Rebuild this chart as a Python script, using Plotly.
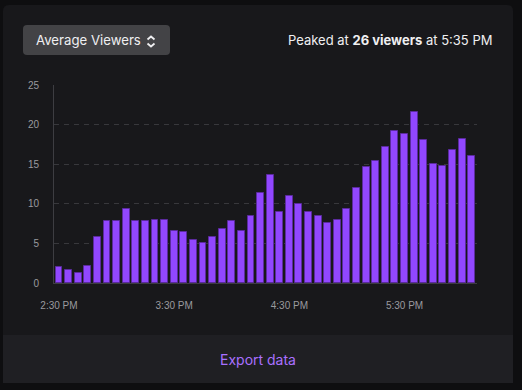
import plotly.graph_objects as go
from datetime import datetime, timedelta

# ---- data ----
start_time = datetime(2024, 1, 1, 14, 30)
interval_minutes = 5
viewers = [2.0, 1.6, 1.3, 2.2, 5.8, 7.8, 7.8, 9.4, 7.8, 7.8,
           8.0, 8.0, 6.6, 6.4, 5.4, 5.0, 5.8, 6.8, 7.8, 6.6,
           8.4, 11.4, 13.6, 9.0, 11.0, 10.0, 9.0, 8.4, 7.6, 8.0,
           9.4, 12.0, 14.6, 15.4, 17.2, 19.2, 18.8, 21.6, 18.0, 15.0,
           14.8, 16.8, 18.2, 16.0]
times = [start_time + timedelta(minutes=interval_minutes * i) for i in range(len(viewers))]
x_tick_times = [datetime(2024, 1, 1, 14, 30), datetime(2024, 1, 1, 15, 30),
                datetime(2024, 1, 1, 16, 30), datetime(2024, 1, 1, 17, 30)]
x_tick_labels = ["2:30 PM", "3:30 PM", "4:30 PM", "5:30 PM"]
y_ticks = [0, 5, 10, 15, 20, 25]
metric_label = "Average Viewers"
peak_text = "Peaked at <b>26 viewers</b> at 5:35 PM"
footer_text = "Export data"

W, H = 522, 390


def X(px):
    return px / W


def Y(py):
    return 1 - py / H


def rpath(x0, y0, x1, y1, r, top=True, bottom=True):
    rt = r if top else 0
    rb = r if bottom else 0
    pts = []
    pts.append(f"M {X(x0 + rt)},{Y(y0)}")
    pts.append(f"L {X(x1 - rt)},{Y(y0)}")
    if rt:
        pts.append(f"Q {X(x1)},{Y(y0)} {X(x1)},{Y(y0 + rt)}")
    pts.append(f"L {X(x1)},{Y(y1 - rb)}")
    if rb:
        pts.append(f"Q {X(x1)},{Y(y1)} {X(x1 - rb)},{Y(y1)}")
    pts.append(f"L {X(x0 + rb)},{Y(y1)}")
    if rb:
        pts.append(f"Q {X(x0)},{Y(y1)} {X(x0)},{Y(y1 - rb)}")
    pts.append(f"L {X(x0)},{Y(y0 + rt)}")
    if rt:
        pts.append(f"Q {X(x0)},{Y(y0)} {X(x0 + rt)},{Y(y0)}")
    pts.append("Z")
    return " ".join(pts)


fig = go.Figure()
fig.add_trace(go.Bar(
    x=times, y=viewers,
    width=0.72 * interval_minutes * 60 * 1000,
    marker=dict(color="#9147ff", line=dict(color="#5b2b9e", width=1)),
    hoverinfo="x+y",
))

shapes = [
    dict(type="path", path=rpath(3, 5, 513, 383, 6, top=True, bottom=False),
         xref="paper", yref="paper", fillcolor="#18181b", line=dict(width=0), layer="below"),
    dict(type="path", path=rpath(3, 335, 513, 383, 0),
         xref="paper", yref="paper", fillcolor="#1f1f23", line=dict(width=0), layer="below"),
    dict(type="path", path=rpath(23, 25, 170, 55, 4),
         xref="paper", yref="paper", fillcolor="#434346", line=dict(width=0), layer="below"),
    # up/down chevron icon
    dict(type="path",
         path=f"M {X(147.5)},{Y(39.5)} L {X(151)},{Y(36.5)} L {X(154.5)},{Y(39.5)}",
         xref="paper", yref="paper", line=dict(color="#efeff1", width=1.8)),
    dict(type="path",
         path=f"M {X(147.5)},{Y(43.5)} L {X(151)},{Y(46.5)} L {X(154.5)},{Y(43.5)}",
         xref="paper", yref="paper", line=dict(color="#efeff1", width=1.8)),
]

annotations = [
    dict(text=metric_label, x=X(33.5), y=Y(40.5), xref="paper", yref="paper",
         xanchor="left", yanchor="middle", showarrow=False,
         font=dict(family="Inter", size=13.2, color="#efeff1")),
    dict(text=peak_text, x=X(494), y=Y(40.5), xref="paper", yref="paper",
         xanchor="right", yanchor="middle", showarrow=False,
         font=dict(family="Inter", size=13, color="#efeff1")),
    dict(text=footer_text, x=X(258), y=Y(359), xref="paper", yref="paper",
         xanchor="center", yanchor="middle", showarrow=False,
         font=dict(family="Inter", size=14, color="#a970ff")),
]

x_lo = start_time - timedelta(minutes=2.6)
x_hi = times[-1] + timedelta(minutes=2.75)

fig.update_layout(
    width=W, height=H, autosize=False,
    margin=dict(l=0, r=0, t=0, b=0, pad=0),
    paper_bgcolor="#0e0e10", plot_bgcolor="rgba(0,0,0,0)",
    showlegend=False, bargap=0,
    shapes=shapes, annotations=annotations,
    xaxis=dict(
        domain=[X(54), X(477)], type="date", range=[x_lo, x_hi],
        tickvals=x_tick_times, ticktext=x_tick_labels,
        showgrid=False, zeroline=False,
        showline=True, linecolor="#3d3d42", linewidth=1,
        ticks="outside", ticklen=13, tickcolor="rgba(0,0,0,0)",
        tickfont=dict(family="Liberation Sans", size=10, color="#9a9a9f"),
        automargin=False, fixedrange=True,
    ),
    yaxis=dict(
        domain=[Y(283), Y(85)], range=[0, 25],
        tickvals=y_ticks,
        showgrid=True, gridcolor="#38383c", griddash="5px,5px", gridwidth=1,
        zeroline=False,
        showline=True, linecolor="#3d3d42", linewidth=1,
        ticks="outside", ticklen=12, tickcolor="rgba(0,0,0,0)",
        tickfont=dict(family="Liberation Sans", size=10, color="#9a9a9f"),
        automargin=False, fixedrange=True,
    ),
)

fig.write_html("out.html", config={"displayModeBar": False},
               post_script="document.body.style.margin='0';")
